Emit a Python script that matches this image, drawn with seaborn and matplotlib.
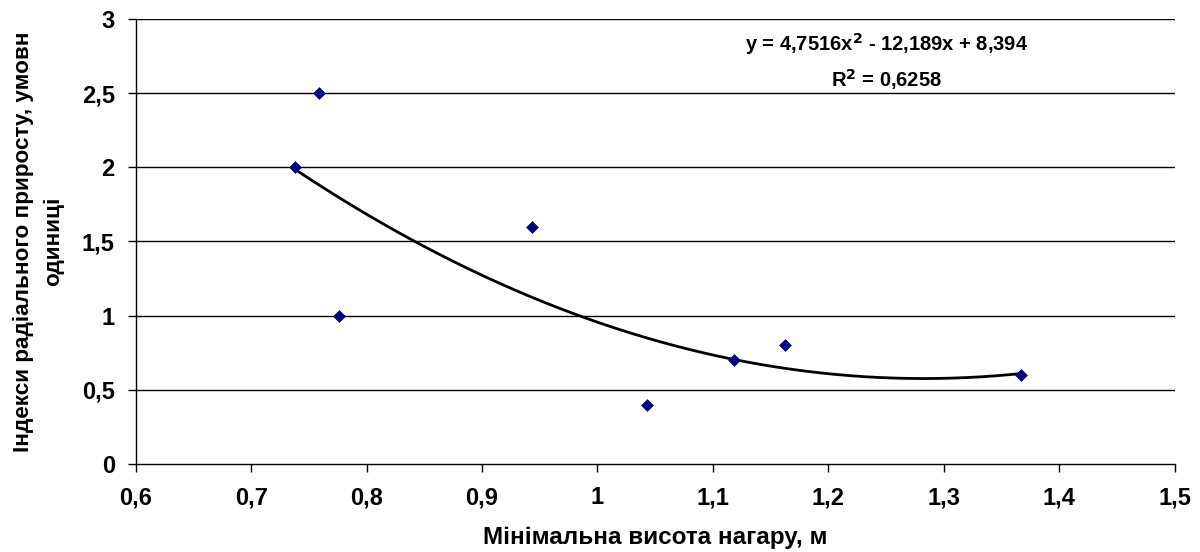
import numpy as np
import pandas as pd
import matplotlib
matplotlib.use("Agg")
import matplotlib.pyplot as plt
import seaborn as sns
from matplotlib.ticker import FuncFormatter

# data
min_height = [0.738, 0.759, 0.776, 0.943, 1.043, 1.118, 1.162, 1.367]
growth_index = [2.0, 2.5, 1.0, 1.6, 0.4, 0.7, 0.8, 0.6]

# polynomial trend (Excel) coefficients
trend_coef = [4.7516, -12.189, 8.394]
r2 = 0.6258

x_ticks = [0.6, 0.7, 0.8, 0.9, 1.0, 1.1, 1.2, 1.3, 1.4, 1.5]
y_ticks = [0, 0.5, 1, 1.5, 2, 2.5, 3]

sns.set_style("white")
plt.rcParams['font.family'] = ['Liberation Sans', 'DejaVu Sans']
plt.rcParams['font.weight'] = 'bold'
plt.rcParams['text.color'] = 'black'
plt.rcParams['axes.labelcolor'] = 'black'
plt.rcParams['xtick.color'] = 'black'
plt.rcParams['ytick.color'] = 'black'

df = pd.DataFrame({"x": min_height, "y": growth_index})
xs = np.linspace(min(min_height), max(min_height), 200)
trend = pd.DataFrame({"x": xs, "y": np.polyval(trend_coef, xs)})

fig = plt.figure(figsize=(12, 5.52), dpi=100)
ax = fig.add_axes([0.113, 0.159, 0.866, 0.807])

for yv in y_ticks[1:]:
    ax.axhline(yv, color="black", lw=1, zorder=0)

sns.lineplot(data=trend, x="x", y="y", ax=ax, color="black", lw=2, zorder=2)
sns.scatterplot(data=df, x="x", y="y", ax=ax, marker="D", color="#000080",
                s=36, edgecolor="#000080", zorder=3)

ax.set_xlim(0.6, 1.5)
ax.set_ylim(0, 3)
ax.set_xticks(x_ticks)
ax.set_yticks(y_ticks)
comma = FuncFormatter(lambda v, p: f"{v:g}".replace(".", ","))
ax.xaxis.set_major_formatter(comma)
ax.yaxis.set_major_formatter(comma)
ax.tick_params(axis="both", direction="out", length=6, width=1, color="black",
               labelcolor="black", labelsize=17, bottom=True, left=True)
ax.tick_params(axis="x", pad=10)
ax.tick_params(axis="y", pad=9)
for lab in ax.get_xticklabels() + ax.get_yticklabels():
    lab.set_fontweight("bold")

for side in ["top", "right"]:
    ax.spines[side].set_visible(False)
for side in ["left", "bottom"]:
    ax.spines[side].set_color("black")
    ax.spines[side].set_linewidth(1)

ax.set_xlabel("Мінімальна висота нагару, м", fontsize=17.5, fontweight="bold",
              labelpad=12, color="black")
ax.set_ylabel("Індекси радіального приросту, умовн\nодиниці", fontsize=16.2,
              fontweight="bold", labelpad=13, linespacing=1.55, color="black")

eq = (f"y = {trend_coef[0]:g}x$^\\mathbf{{2}}$ - {abs(trend_coef[1]):g}x + {trend_coef[2]:g}").replace(".", ",")
ax.text(1.25, 2.83, eq, ha="center", va="center", fontsize=14.5, fontweight="bold", color="black")
ax.text(1.25, 2.59, f"R$^\\mathbf{{2}}$ = {r2:g}".replace(".", ","), ha="center", va="center",
        fontsize=14.5, fontweight="bold", color="black")

fig.savefig("out.png", dpi=100)
